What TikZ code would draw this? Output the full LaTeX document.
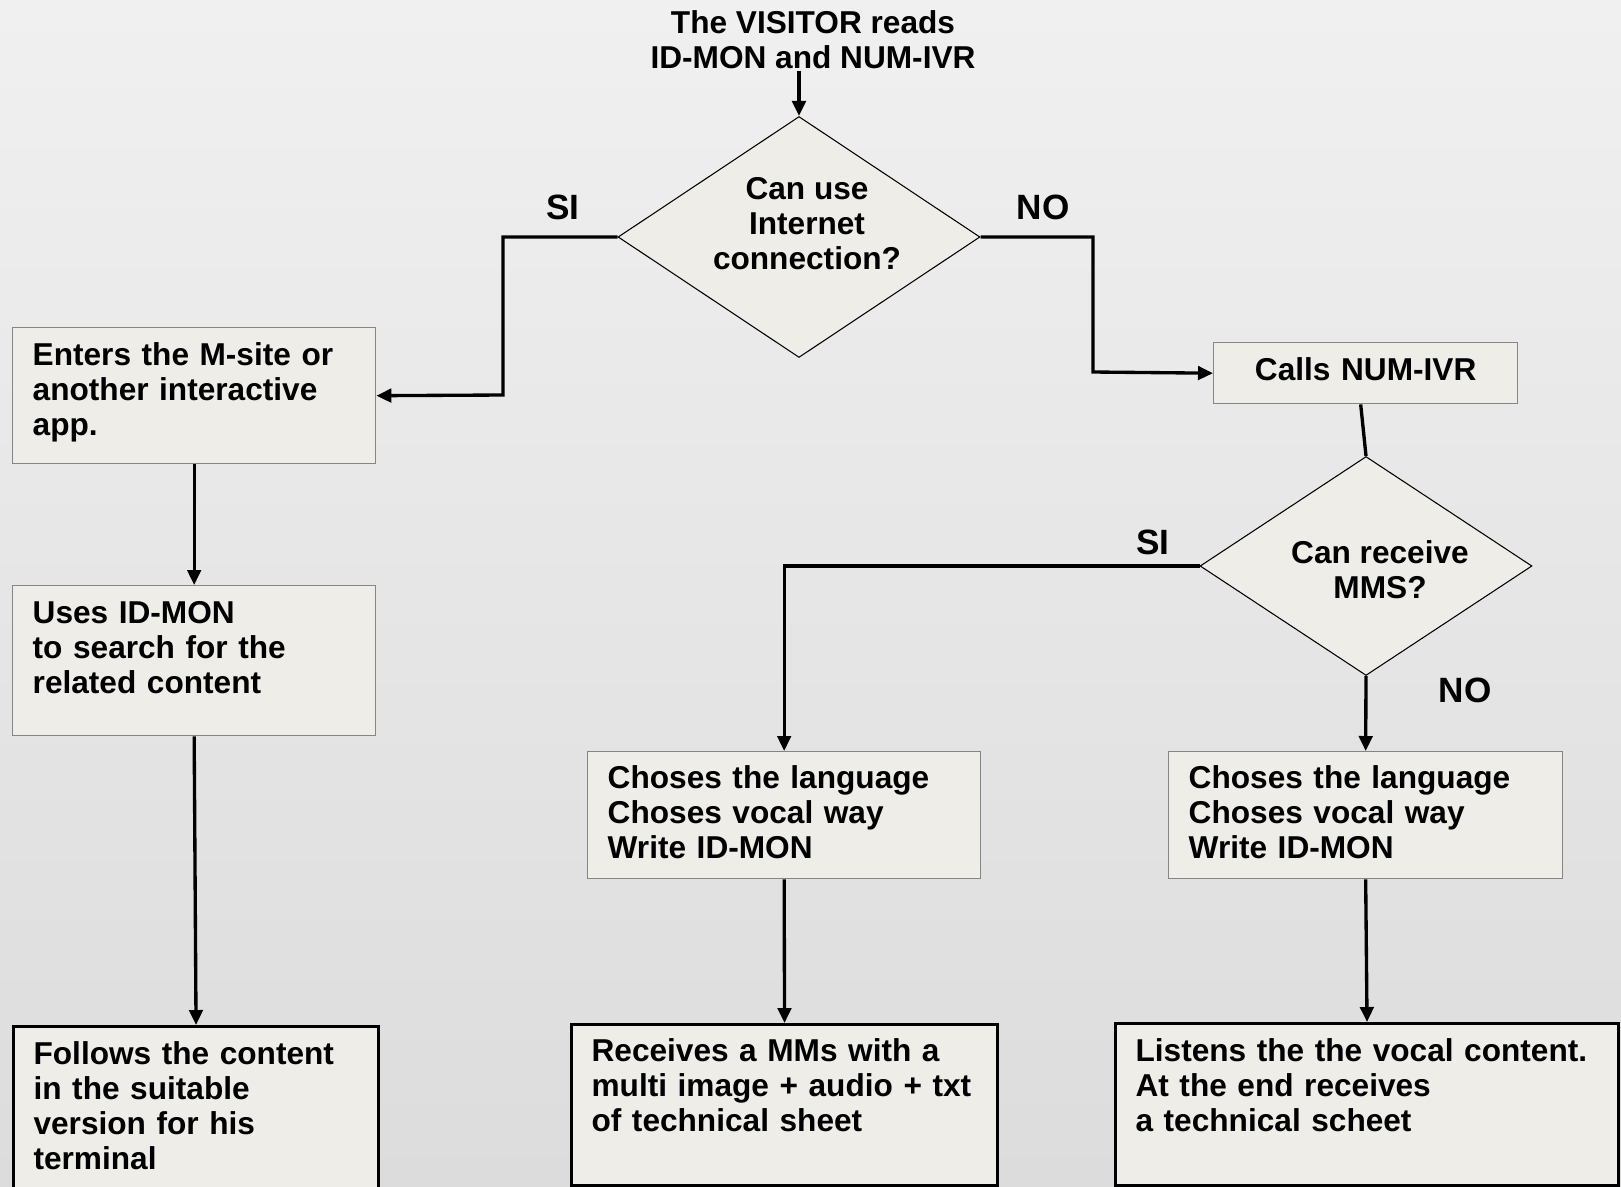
\documentclass[tikz,border=0pt]{standalone}
\usepackage{fontspec}
\setmainfont{Liberation Sans}
\usetikzlibrary{shapes.geometric,arrows.meta}
\definecolor{boxfill}{HTML}{EEEDE7}
\definecolor{boxline}{HTML}{858585}
\definecolor{bgtop}{HTML}{F0F0F0}
\definecolor{bgbottom}{HTML}{DCDCDC}

\begin{document}
\begin{tikzpicture}[x=0.02cm,y=-0.02cm,
	txt/.style={font=\fontsize{18}{19.9}\selectfont\bfseries},
	box/.style={txt,draw=boxline,fill=boxfill,line width=0.8pt,anchor=north west,align=left,inner xsep=0.4cm,inner ysep=0},
	endbox/.style={box,draw=black,line width=1.8pt},
	dec/.style={diamond,draw=black,fill=boxfill,line width=0.6pt,inner sep=0},
	answer/.style={font=\fontsize{20}{22}\selectfont\bfseries},
	arr/.style={line width=1.9pt,-{Triangle[length=0.3cm,width=0.27cm]}}]
	\useasboundingbox (0,0) rectangle (1621,1186);
	\clip (0,0) rectangle (1621,1186);
	\shade[top color=bgtop,bottom color=bgbottom] (0,0) rectangle (1621,1186);
	% start and first question
	\node[txt,align=center,inner sep=1pt] (visitor) at (813,40) {The VISITOR reads\\ID-MON and NUM-IVR};
	\node[dec,minimum width=7.24cm,minimum height=4.82cm] (web) at (799,237) {};
	\node[txt,align=center,inner sep=0] (webtext) at (807,224) {Can use\\Internet\\connection?};
	\node[answer] (si1) at (563,207) {SI};
	\node[answer] (no1) at (1043,207) {NO};
	% internet branch
	\node[box,text width=6.46cm,text height=0.76cm,text depth=1.96cm] (enter) at (12,327) {Enters the M-site or\\another interactive\\app.};
	\node[box,text width=6.46cm,text height=0.76cm,text depth=2.24cm] (search) at (12,585) {Uses ID-MON\\to search for the\\related content};
	\node[endbox,text width=6.5cm,text height=0.76cm,text depth=4cm] (follow) at (12,1025) {Follows the content\\in the suitable\\version for his\\terminal};
	% phone branch
	\node[box,align=center,text width=5.28cm,text height=0.76cm,text depth=0.46cm] (calls) at (1213,342) {Calls NUM-IVR};
	\node[dec,minimum width=6.64cm,minimum height=4.38cm] (canmms) at (1366,566) {};
	\node[txt,align=center,inner sep=0] (canmmstext) at (1380,570) {Can receive\\MMS?};
	\node[answer] (si2) at (1153,542) {SI};
	\node[answer] (no2) at (1465,690) {NO};
	\node[box,text width=7.06cm,text height=0.74cm,text depth=1.8cm] (lang1) at (587,751) {Choses the language\\Choses vocal way\\Write ID-MON};
	\node[box,text width=7.08cm,text height=0.74cm,text depth=1.8cm] (lang2) at (1168,751) {Choses the language\\Choses vocal way\\Write ID-MON};
	\node[endbox,text width=7.72cm,text height=0.74cm,text depth=2.48cm] (receive) at (570,1023) {Receives a MMs with a\\multi image + audio + txt\\of technical sheet};
	\node[endbox,text width=9.26cm,text height=0.76cm,text depth=2.48cm] (listen) at (1114,1022) {Listens the the vocal content.\\At the end receives\\a technical scheet};
	% connectors
	\coordinate (sibend) at (503,395);
	\coordinate (nobend) at (1093,372);
	\draw[arr] (visitor.south -| web.north) -- (web.north);
	\draw[arr] (web.west) -| (sibend) -- (enter.east);
	\draw[arr] (web.east) -| (nobend) -- (calls.west);
	\draw[arr] (enter.south) -- (search.north);
	\draw[arr] (search.south) -- (follow.north);
	\draw[line width=1.9pt] ([xshift=-0.1cm]calls.south) -- (canmms.north);
	\draw[arr] (canmms.west) -| (lang1.north);
	\draw[arr] (canmms.south) -- (lang2.north);
	\draw[arr] (lang1.south) -- (receive.north);
	\draw[arr] (lang2.south) -- (listen.north);
\end{tikzpicture}
\end{document}
